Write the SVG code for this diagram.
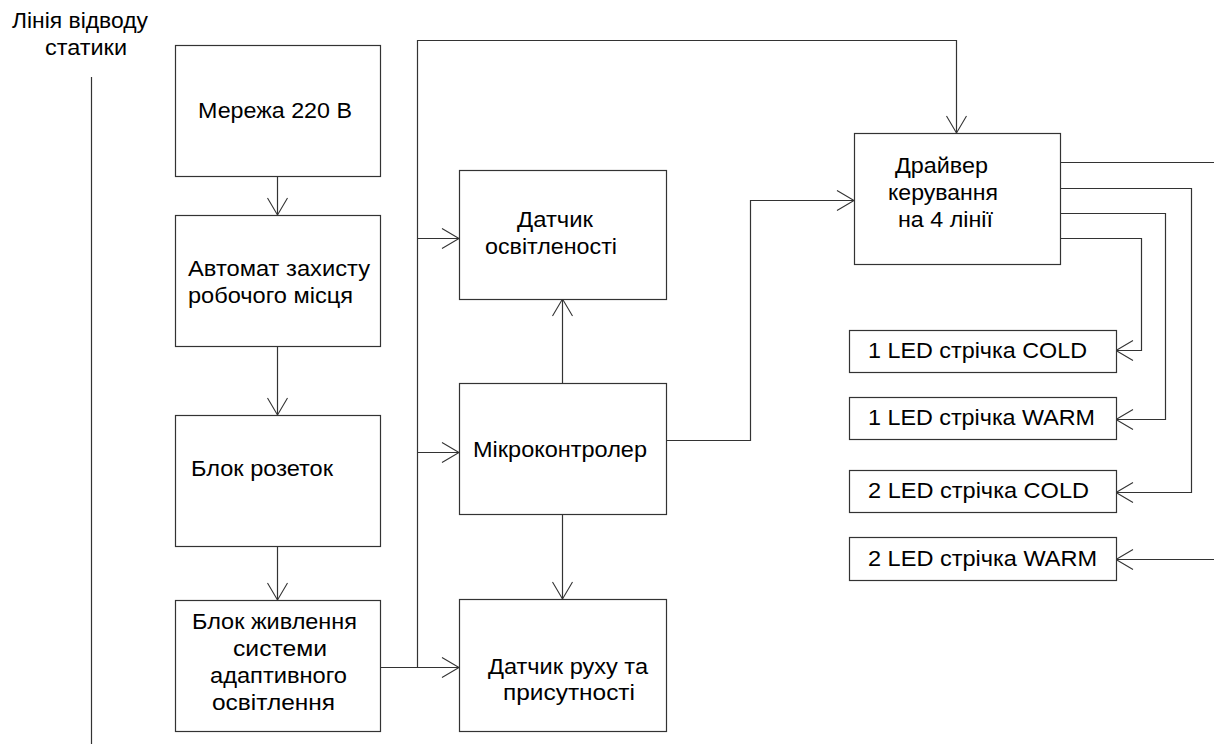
<svg xmlns="http://www.w3.org/2000/svg" width="1214" height="744" viewBox="0 0 1214 744">
<defs>
<style>
.box{fill:#fff;stroke:#333;stroke-width:1.2}
.ln{fill:none;stroke:#333;stroke-width:1.2}
text{font-family:"Liberation Sans",Arial,sans-serif;font-size:22px;fill:#000}
</style>
<marker id="arr" markerUnits="userSpaceOnUse" markerWidth="20" markerHeight="24" viewBox="-18 -12 20 24" refX="0" refY="0" orient="auto">
<path d="M-17,-10 L0,0 L-17,10" fill="none" stroke="#333" stroke-width="1.1"/>
</marker>
</defs>
<rect width="1214" height="744" fill="#fff"/>
<g id="static">
<text x="12" y="28" textLength="136" lengthAdjust="spacingAndGlyphs">Лінія відводу</text>
<text x="45" y="55" textLength="82" lengthAdjust="spacingAndGlyphs">статики</text>
<line class="ln" x1="91.5" y1="77" x2="91.5" y2="744"/>
</g>
<g id="connectors">
<path class="ln" d="M277.5,176 V215" marker-end="url(#arr)"/>
<path class="ln" d="M277.5,346 V415" marker-end="url(#arr)"/>
<path class="ln" d="M277.5,546 V600" marker-end="url(#arr)"/>
<path class="ln" d="M380,667.5 H459" marker-end="url(#arr)"/>
<path class="ln" d="M417.5,667.5 V40.5 H956.5 V133" marker-end="url(#arr)"/>
<path class="ln" d="M417.5,238.5 H459" marker-end="url(#arr)"/>
<path class="ln" d="M417.5,452.5 H459" marker-end="url(#arr)"/>
<path class="ln" d="M562.5,383 V299" marker-end="url(#arr)"/>
<path class="ln" d="M666,440.5 H750.5 V200.5 H854" marker-end="url(#arr)"/>
<path class="ln" d="M562.5,514 V599" marker-end="url(#arr)"/>
<path class="ln" d="M1060,162.5 H1214"/>
<path class="ln" d="M1060,188.5 H1191.5 V492.5 H1116" marker-end="url(#arr)"/>
<path class="ln" d="M1060,213.5 H1165.5 V419.5 H1116" marker-end="url(#arr)"/>
<path class="ln" d="M1060,238.5 H1141.5 V350.5 H1116" marker-end="url(#arr)"/>
<path class="ln" d="M1214,559.5 H1116" marker-end="url(#arr)"/>
</g>
<g id="mains">
<rect class="box" x="175.5" y="45.5" width="205" height="131"/>
<text x="198" y="118" textLength="154" lengthAdjust="spacingAndGlyphs">Мережа 220 В</text>
</g>
<g id="breaker">
<rect class="box" x="175.5" y="215.5" width="205" height="131"/>
<text x="188" y="276" textLength="182" lengthAdjust="spacingAndGlyphs">Автомат захисту</text>
<text x="188" y="303" textLength="165" lengthAdjust="spacingAndGlyphs">робочого місця</text>
</g>
<g id="sockets">
<rect class="box" x="175.5" y="415.5" width="205" height="131"/>
<text x="191" y="476" textLength="142" lengthAdjust="spacingAndGlyphs">Блок розеток</text>
</g>
<g id="psu">
<rect class="box" x="175.5" y="600.5" width="205" height="131"/>
<text x="192" y="629" textLength="165" lengthAdjust="spacingAndGlyphs">Блок живлення</text>
<text x="233" y="656" textLength="94" lengthAdjust="spacingAndGlyphs">системи</text>
<text x="210" y="683" textLength="137" lengthAdjust="spacingAndGlyphs">адаптивного</text>
<text x="212" y="710" textLength="123" lengthAdjust="spacingAndGlyphs">освітлення</text>
</g>
<g id="light-sensor">
<rect class="box" x="459.5" y="170.5" width="207" height="129"/>
<text x="517" y="227" textLength="76" lengthAdjust="spacingAndGlyphs">Датчик</text>
<text x="485" y="254" textLength="132" lengthAdjust="spacingAndGlyphs">освітленості</text>
</g>
<g id="mcu">
<rect class="box" x="459.5" y="383.5" width="207" height="131"/>
<text x="473" y="457" textLength="174" lengthAdjust="spacingAndGlyphs">Мікроконтролер</text>
</g>
<g id="motion-sensor">
<rect class="box" x="459.5" y="599.5" width="207" height="132"/>
<text x="488" y="674" textLength="160" lengthAdjust="spacingAndGlyphs">Датчик руху та</text>
<text x="503" y="700" textLength="132" lengthAdjust="spacingAndGlyphs">присутності</text>
</g>
<g id="driver">
<rect class="box" x="854.5" y="133.5" width="206" height="131"/>
<text x="895" y="173" textLength="93" lengthAdjust="spacingAndGlyphs">Драйвер</text>
<text x="888" y="200" textLength="110" lengthAdjust="spacingAndGlyphs">керування</text>
<text x="898" y="227" textLength="95" lengthAdjust="spacingAndGlyphs">на 4 лінії</text>
</g>
<g id="led1-cold">
<rect class="box" x="849.5" y="330.5" width="267" height="42"/>
<text x="868" y="358" textLength="219" lengthAdjust="spacingAndGlyphs">1 LED стрічка COLD</text>
</g>
<g id="led1-warm">
<rect class="box" x="849.5" y="397.5" width="267" height="42"/>
<text x="868" y="425" textLength="227" lengthAdjust="spacingAndGlyphs">1 LED стрічка WARM</text>
</g>
<g id="led2-cold">
<rect class="box" x="849.5" y="470.5" width="267" height="42"/>
<text x="868" y="498" textLength="221" lengthAdjust="spacingAndGlyphs">2 LED стрічка COLD</text>
</g>
<g id="led2-warm">
<rect class="box" x="849.5" y="537.5" width="267" height="43"/>
<text x="868" y="566" textLength="229" lengthAdjust="spacingAndGlyphs">2 LED стрічка WARM</text>
</g>
</svg>
